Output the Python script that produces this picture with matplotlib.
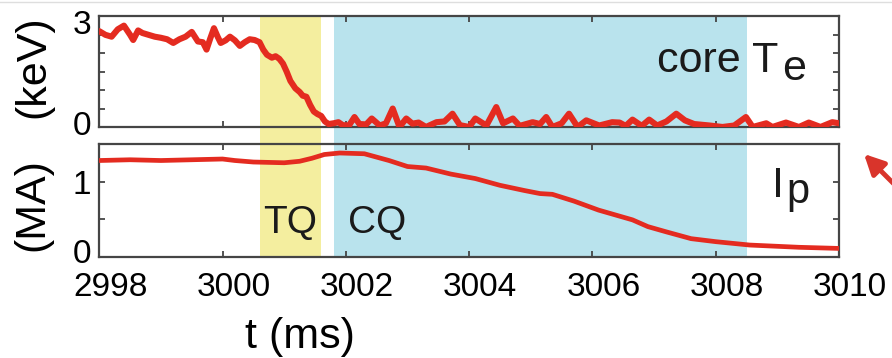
import matplotlib
matplotlib.use("Agg")
import matplotlib.pyplot as plt
from matplotlib.transforms import ScaledTranslation
from matplotlib.lines import Line2D

plt.rcParams['font.family'] = ['Liberation Sans', 'DejaVu Sans']

# core electron temperature (keV)
te_t = [2998.0, 2998.1, 2998.2, 2998.3, 2998.4, 2998.5, 2998.55, 2998.63, 2998.7, 2998.8,
        2998.9, 2999.0, 2999.1, 2999.2, 2999.3, 2999.4, 2999.5, 2999.6, 2999.68, 2999.74,
        2999.8, 2999.86, 2999.92, 2999.97, 3000.05, 3000.12, 3000.2, 3000.28, 3000.36, 3000.44,
        3000.52, 3000.6, 3000.66, 3000.72, 3000.8, 3000.86, 3000.92, 3000.98, 3001.04, 3001.1,
        3001.18, 3001.25, 3001.3, 3001.36, 3001.42, 3001.48, 3001.54, 3001.6, 3001.66, 3001.72,
        3001.8, 3001.88, 3001.95, 3002.05, 3002.14, 3002.22, 3002.33, 3002.42, 3002.55, 3002.65,
        3002.76, 3002.87, 3002.98, 3003.08, 3003.18, 3003.3, 3003.47, 3003.6, 3003.73, 3003.85,
        3004.0, 3004.1, 3004.28, 3004.44, 3004.55, 3004.71, 3004.82, 3005.03, 3005.15, 3005.25,
        3005.35, 3005.5, 3005.62, 3005.76, 3005.9, 3006.11, 3006.32, 3006.44, 3006.54, 3006.65,
        3006.8, 3006.92, 3007.05, 3007.2, 3007.36, 3007.5, 3007.65, 3007.9, 3008.11, 3008.3,
        3008.49, 3008.6, 3008.82, 3008.92, 3009.14, 3009.35, 3009.51, 3009.7, 3009.89, 3010.0]
te_val = [2.6, 2.5, 2.45, 2.65, 2.75, 2.5, 2.36, 2.62, 2.55, 2.5,
          2.45, 2.42, 2.38, 2.28, 2.38, 2.45, 2.58, 2.32, 2.3, 2.1,
          2.4, 2.68, 2.45, 2.28, 2.35, 2.45, 2.35, 2.2, 2.3, 2.38,
          2.36, 2.3, 2.1, 1.96, 1.88, 1.92, 1.85, 1.72, 1.5, 1.25,
          1.05, 0.95, 0.85, 0.82, 0.6, 0.42, 0.35, 0.3, 0.15, 0.08,
          0.1, 0.13, 0.05, 0.04, 0.27, 0.08, 0.07, 0.23, 0.04, 0.1,
          0.5, 0.0, 0.23, 0.09, 0.12, 0.0, 0.13, 0.15, 0.36, 0.05,
          0.0, 0.23, 0.04, 0.54, 0.1, 0.23, 0.03, 0.13, 0.08, 0.27,
          0.0, 0.1, 0.36, 0.0, 0.18, 0.04, 0.13, 0.12, 0.03, 0.2,
          0.03, 0.2, 0.04, 0.15, 0.36, 0.18, 0.08, 0.04, 0.0, 0.04,
          0.27, 0.0, 0.1, 0.0, 0.12, 0.0, 0.12, 0.0, 0.13, 0.1]

# plasma current (MA)
ip_t = [2998.0, 2998.5, 2999.0, 2999.5, 3000.0, 3000.2, 3000.5, 3001.0, 3001.25, 3001.45,
        3001.65, 3001.9, 3002.3, 3002.7, 3003.0, 3003.3, 3003.7, 3004.1, 3004.5, 3004.9,
        3005.15, 3005.35, 3005.7, 3006.1, 3006.65, 3006.9, 3007.2, 3007.6, 3008.0, 3008.55,
        3009.35, 3010.0]
ip_val = [1.28, 1.29, 1.28, 1.29, 1.3, 1.28, 1.26, 1.25, 1.27, 1.31,
          1.36, 1.38, 1.37, 1.28, 1.2, 1.18, 1.1, 1.04, 0.95, 0.88,
          0.84, 0.83, 0.74, 0.62, 0.49, 0.4, 0.33, 0.24, 0.2, 0.155,
          0.125, 0.11]

tq_span = (3000.6, 3001.6)
cq_span = (3001.8, 3008.5)
xticks = [2998, 3000, 3002, 3004, 3006, 3008, 3010]

red = '#e42b20'
yellow = '#f4ee9f'
blue = '#b9e3ed'
frame = '#454545'
ink = '#1a1a1a'

fig = plt.figure(figsize=(8.92, 3.58), dpi=100)
ax1 = fig.add_axes([0.1113, 0.6453, 0.8293, 0.3109])
ax2 = fig.add_axes([0.1113, 0.2830, 0.8293, 0.3148])
ax1.set_zorder(2)
ax1.patch.set_visible(False)

# shaded phases run through both panels
p1 = ax1.get_position()
p2 = ax2.get_position()
span_top = (p1.y1 - p2.y0) / p2.height
for (a, b), c in [(tq_span, yellow), (cq_span, blue)]:
    ax2.axvspan(a, b, ymin=0, ymax=span_top, color=c, lw=0, clip_on=False, zorder=0)

ax1.plot(te_t, te_val, color=red, lw=4.4, solid_joinstyle='round', solid_capstyle='round', zorder=3)
ax2.plot(ip_t, ip_val, color=red, lw=3.4, solid_joinstyle='round', zorder=3)

ax1.set_ylim(0, 3.02)
ax1.set_yticks([0, 0.5, 1, 1.5, 2, 2.5, 3])
ax1.set_yticklabels(['0', '', '', '', '', '', '3'])
ax2.set_ylim(0, 1.5)
ax2.set_yticks([0, 0.5, 1])
ax2.set_yticklabels(['0', '', '1'])

for ax in (ax1, ax2):
    ax.set_xlim(2998, 3010)
    ax.set_xticks(xticks)
    ax.tick_params(direction='in', length=4, width=1.3, color=frame,
                   top=True, right=True, labelsize=24, pad=6)
    for s in ax.spines.values():
        s.set_color(frame)
        s.set_linewidth(1.6)
ax1.tick_params(labelbottom=False)
ax2.tick_params(axis='x', pad=11)
ax2.set_xticklabels([str(v) for v in xticks])

# tick labels sit a little right of their ticks
for lab in ax2.get_xticklabels():
    lab.set_transform(lab.get_transform() + ScaledTranslation(11 / 100, 0, fig.dpi_scale_trans))
ylabs = ax1.get_yticklabels()
ylabs[-1].set_transform(ylabs[-1].get_transform() + ScaledTranslation(0, -6 / 100, fig.dpi_scale_trans))
ylabs[0].set_transform(ylabs[0].get_transform() + ScaledTranslation(0, 4 / 100, fig.dpi_scale_trans))
ylabs2 = ax2.get_yticklabels()
ylabs2[0].set_transform(ylabs2[0].get_transform() + ScaledTranslation(0, 6 / 100, fig.dpi_scale_trans))

fig.text(33 / 892, 1 - 67 / 358, '(keV)', rotation=90, ha='center', va='center', fontsize=31)
fig.text(32 / 892, 1 - 205 / 358, '(MA)', rotation=90, ha='center', va='center', fontsize=31)
fig.text(300 / 892, 1 - 337 / 358, 't (ms)', ha='center', va='center', fontsize=31)

ax1.text(3009.02, 1.49, 'core T', ha='right', va='baseline', fontsize=31, color=ink, zorder=4)
ax1.text(3009.08, 1.27, 'e', ha='left', va='baseline', fontsize=31, color=ink, zorder=4)
ax2.text(3008.92, 0.8, 'I', ha='left', va='baseline', fontsize=31, color=ink)
ax2.text(3009.15, 0.71, 'p', ha='left', va='baseline', fontsize=30, color=ink)
ax2.text(3001.09, 0.31, 'TQ', ha='center', va='baseline', fontsize=28, color=ink)
ax2.text(3002.03, 0.31, 'CQ', ha='left', va='baseline', fontsize=28, color=ink)

fig.add_artist(Line2D([0, 1], [1 - 2 / 358, 1 - 2 / 358], color='#dedede', lw=1))
fig.add_artist(plt.Annotation('', xy=(862 / 892, 1 - 152 / 358), xycoords='figure fraction',
                              xytext=(915 / 892, 1 - 205 / 358), textcoords='figure fraction',
                              arrowprops=dict(arrowstyle='-|>', color='#d9342b', lw=3.5,
                                              mutation_scale=30)))

fig.savefig('out.png', dpi=100)
